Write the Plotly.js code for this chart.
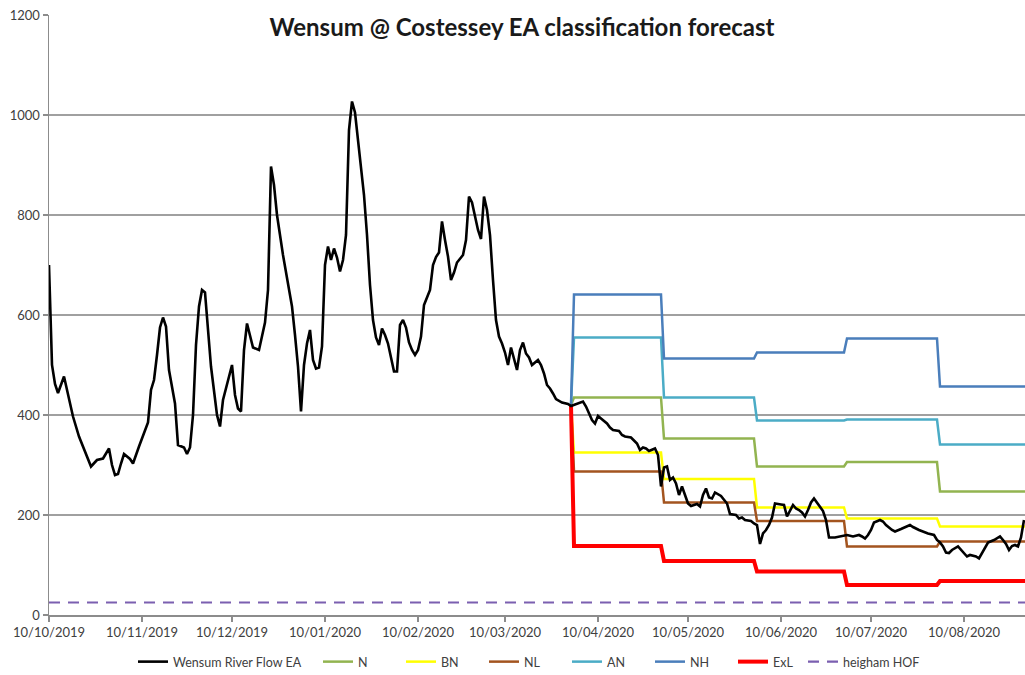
<!DOCTYPE html>
<html>
<head>
<meta charset="utf-8">
<script src="https://cdn.plot.ly/plotly-3.0.1.min.js"></script>
<style>html,body{margin:0;padding:0;background:#fff;}#chart{width:1025px;height:675px;}</style>
</head>
<body>
<div id="chart"></div>
<script>
// ---- DATA ----
const startDate = '2019-10-10';
// observed flow: day offset from startDate, value (Ml/d)
const flowDay = [0,1,2,3,5,8,10,12,14,16,18,20,21,22,23,24,25,27,28,30,32,33,34,35,36,37,38,39,40,41,42,43,45,46,47,48,49,50,51,52,53,54,56,57,58,59,61,62,63,64,65,66,67,68,70,71,72,73,74,75,76,78,80,81,82,83,84,85,86,87,88,89,90,91,92,93,94,95,96,97,98,99,100,101,102,103,104,105,106,107,108,109,110,111,112,113,114,115,116,117,118,119,120,121,122,123,124,125,126,127,128,129,130,131,132,133,134,135,136,137,138,139,140,141,142,143,144,145,146,147,148,149,150,151,152,153,154,155,156,157,158,159,160,161,162,163,164,165,166,167,168,169,171,173,174,175,176,178,179,180,181,182,183,184,186,187,188,190,191,192,194,196,197,198,199,200,201,202,203,204,205,206,207,208,209,210,211,212,213,214,216,217,218,219,220,221,222,224,226,227,229,230,231,232,234,235,236,237,238,239,240,241,242,244,245,246,247,248,249,250,251,252,253,254,255,256,257,258,259,260,262,264,266,268,270,271,272,273,274,275,277,278,279,281,282,284,286,287,288,290,293,295,296,297,298,299,300,301,303,305,306,307,309,310,311,312,313,315,317,318,319,320,321,322,323,324,325];
const flowValue = [700,500,462,444,477,397,357,325,297,310,313,333,300,280,282,303,322,312,303,337,367,385,450,470,520,575,595,577,490,455,423,340,335,322,335,400,540,617,650,645,570,497,400,377,430,455,500,440,413,407,530,583,560,535,530,555,585,650,897,860,800,720,650,617,560,497,407,500,543,570,510,493,495,537,700,737,710,733,715,687,710,760,970,1027,1005,950,890,840,760,660,590,555,540,573,560,543,515,487,487,580,590,575,545,530,520,530,557,620,635,650,700,716,725,787,750,717,670,685,705,712,720,750,837,825,800,770,752,837,810,760,670,590,557,543,525,500,535,515,490,530,545,523,515,500,505,510,500,483,460,453,443,432,425,422,418,420,423,427,417,405,390,383,398,393,383,375,370,368,360,357,355,343,330,335,333,328,330,333,320,257,295,297,270,275,263,240,257,240,223,218,222,217,240,253,235,233,245,238,223,202,200,193,195,190,188,183,180,142,163,170,180,195,223,221,220,197,210,220,213,210,205,197,210,225,233,225,217,208,190,155,155,157,160,157,160,157,153,160,170,185,190,187,180,170,167,172,177,180,176,170,163,160,150,145,137,125,124,130,137,125,117,120,117,113,123,133,145,150,157,150,142,130,138,140,137,155,190,230];

// forecast steps: starting point, then monthly values (Apr..Aug 2020)
const forecastStartValue = 420;
const stepDates = ['2020-04-01','2020-04-02','2020-05-01','2020-05-02','2020-06-01','2020-06-02','2020-07-01','2020-07-02','2020-08-01','2020-08-02','2020-09-10'];
const N   = [435, 353, 297, 306, 247];
const BN  = [325, 272, 215, 193, 177];
const NL  = [287, 225, 188, 137, 147];
const AN  = [555, 435, 389, 391, 341];
const NH  = [641, 513, 525, 553, 457];
const ExL = [138, 108, 87, 60, 68];

const hofDates = ['2019-10-10', '2020-09-10'];
const hofValue = 25;

const tickDates = ['2019-10-10','2019-11-10','2019-12-10','2020-01-10','2020-02-10','2020-03-10','2020-04-10','2020-05-10','2020-06-10','2020-07-10','2020-08-10'];
const tickLabels = ['10/10/2019','10/11/2019','10/12/2019','10/01/2020','10/02/2020','10/03/2020','10/04/2020','10/05/2020','10/06/2020','10/07/2020','10/08/2020'];

// ---- BUILD ----
const base = Date.parse(startDate + 'T00:00:00Z');
const flowDates = flowDay.map(d => new Date(base + d * 864e5).toISOString().slice(0, 10));
function steps(m) {
  return [forecastStartValue, m[0], m[0], m[1], m[1], m[2], m[2], m[3], m[3], m[4], m[4]];
}
function stepTrace(name, vals, color, width) {
  return {x: stepDates, y: steps(vals), type: 'scatter', mode: 'lines', name: name,
          line: {color: color, width: width || 2.5}, legend: 'legend2'};
}
const traces = [
  stepTrace('N', N, '#92b450'),
  stepTrace('BN', BN, '#ffff00'),
  stepTrace('NL', NL, '#a3541f'),
  stepTrace('AN', AN, '#4bacc6'),
  stepTrace('NH', NH, '#4a7ebb'),
  stepTrace('ExL', ExL, '#ff0000', 4),
  {x: hofDates, y: [hofValue, hofValue], type: 'scatter', mode: 'lines', name: 'heigham HOF',
   line: {color: '#7b5fb0', width: 2.2, dash: '11px,8px'}, legend: 'legend3'},
  {x: flowDates, y: flowValue, type: 'scatter', mode: 'lines', name: 'Wensum River Flow EA',
   line: {color: '#000000', width: 2.6}, legend: 'legend'}
];

const fontFam = 'Lato, "Open Sans", sans-serif';
const legFont = {size: 12.5, color: '#404040', family: fontFam};
const legY = 1 - 662/675;
const layout = {
  width: 1025, height: 675,
  margin: {l: 49, r: 0, t: 15, b: 60},
  paper_bgcolor: '#ffffff', plot_bgcolor: '#ffffff',
  font: {family: fontFam, color: '#404040'},
  title: {text: 'Wensum @ Costessey EA classification forecast',
          font: {family: fontFam, size: 24, color: '#1a1a1a', weight: 'bold'},
          xref: 'container', yref: 'container', x: 522/1025, y: 1 - 28/675,
          xanchor: 'center', yanchor: 'middle'},
  xaxis: {type: 'date', range: ['2019-10-10', '2020-08-30 08:00'],
          tickmode: 'array', tickvals: tickDates, ticktext: tickLabels,
          showgrid: false, zeroline: false, showline: true, linecolor: '#8c8c8c', linewidth: 1.5,
          ticks: 'outside', ticklen: 5, tickcolor: '#8c8c8c', tickwidth: 1.5,
          tickfont: {size: 13, color: '#404040'}},
  yaxis: {range: [0, 1200], dtick: 200, tick0: 0,
          showgrid: true, gridcolor: '#a0a0a0', gridwidth: 1.5, zeroline: false,
          showline: true, linecolor: '#8c8c8c', linewidth: 1.5,
          ticks: 'outside', ticklen: 5, tickcolor: '#8c8c8c', tickwidth: 1.5,
          tickfont: {size: 13, color: '#404040'}},
  showlegend: true,
  legend: {orientation: 'h', xref: 'container', yref: 'container', x: 133/1025, y: legY,
           xanchor: 'left', yanchor: 'middle', font: legFont, bgcolor: 'rgba(0,0,0,0)'},
  legend2: {orientation: 'h', xref: 'container', yref: 'container', x: 318/1025, y: legY,
            xanchor: 'left', yanchor: 'middle', entrywidth: 38, entrywidthmode: 'pixels',
            font: legFont, bgcolor: 'rgba(0,0,0,0)'},
  legend3: {orientation: 'h', xref: 'container', yref: 'container', x: 803/1025, y: legY,
            xanchor: 'left', yanchor: 'middle', font: legFont, bgcolor: 'rgba(0,0,0,0)'}
};

Plotly.newPlot('chart', traces, layout, {displayModeBar: false, staticPlot: true});
</script>
</body>
</html>
